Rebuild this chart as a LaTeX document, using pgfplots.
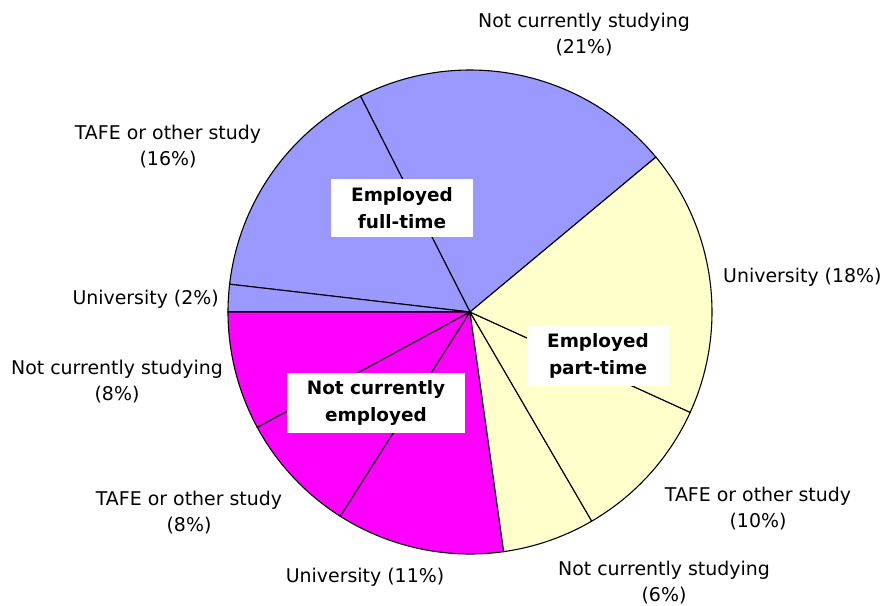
\documentclass[border=0pt]{standalone}
\usepackage{pgfplots}
\pgfplotsset{compat=1.18}
\usepackage{fontspec}
\setmainfont{DejaVu Sans}
\definecolor{ft}{HTML}{9999FF}
\definecolor{pt}{HTML}{FFFFCC}
\definecolor{ne}{HTML}{FF00FF}
% slice boundaries in degrees (counterclockwise, 0 = east), from shares in percent
% FT: Univ 1.8, TAFE 15.7, NCS 21.4 ; PT: Univ 17.9, TAFE 9.8, NCS 6.2 ; NE: Univ 11.2, TAFE 8.1, NCS 7.9
\newcommand\slice[3]{\addplot[fill=#3,draw=black,line width=1.1pt,domain=#1:#2,samples=60]
  ({470+242*cos(x)},{312-242*sin(x)}) -- (axis cs:470,312) -- cycle;}
\begin{document}
\begin{tikzpicture}
\begin{axis}[width=889bp,height=606bp,scale only axis,
  xmin=0,xmax=889,ymin=0,ymax=606,y dir=reverse,hide axis,clip=false]
\slice{39.8}{116.9}{ft}
\slice{116.9}{173.4}{ft}
\slice{173.4}{180.0}{ft}
\slice{180.0}{208.5}{ne}
\slice{208.5}{237.6}{ne}
\slice{237.6}{278.0}{ne}
\slice{278.0}{300.2}{pt}
\slice{300.2}{335.5}{pt}
\slice{335.5}{399.8}{pt}
\tikzset{lab/.style={font=\fontsize{19}{26}\selectfont,align=center,inner sep=0pt}}
\node[lab] at (axis cs:584,35) {Not currently studying\\(21\%)};
\node[lab] at (axis cs:168,147) {TAFE or other study\\(16\%)};
\node[lab,anchor=west] at (axis cs:723,277) {University (18\%)};
\node[lab,anchor=east] at (axis cs:219,299) {University (2\%)};
\node[lab] at (axis cs:117,382) {Not currently studying\\(8\%)};
\node[lab] at (axis cs:189,513) {TAFE or other study\\(8\%)};
\node[lab] at (axis cs:365,577) {University (11\%)};
\node[lab] at (axis cs:758,509) {TAFE or other study\\(10\%)};
\node[lab] at (axis cs:664,583) {Not currently studying\\(6\%)};
\tikzset{blab/.style={font=\bfseries\fontsize{18.5}{27}\selectfont,align=center,fill=white,inner xsep=20pt,inner ysep=8pt}}
\node[blab] at (axis cs:402,208) {Employed\\full-time};
\node[blab] at (axis cs:598,356) {Employed\\part-time};
\node[blab] at (axis cs:376,403) {Not currently\\employed};
\end{axis}
\pgfresetboundingbox
\path (current axis.south west) rectangle (current axis.north east);
\end{tikzpicture}
\end{document}
